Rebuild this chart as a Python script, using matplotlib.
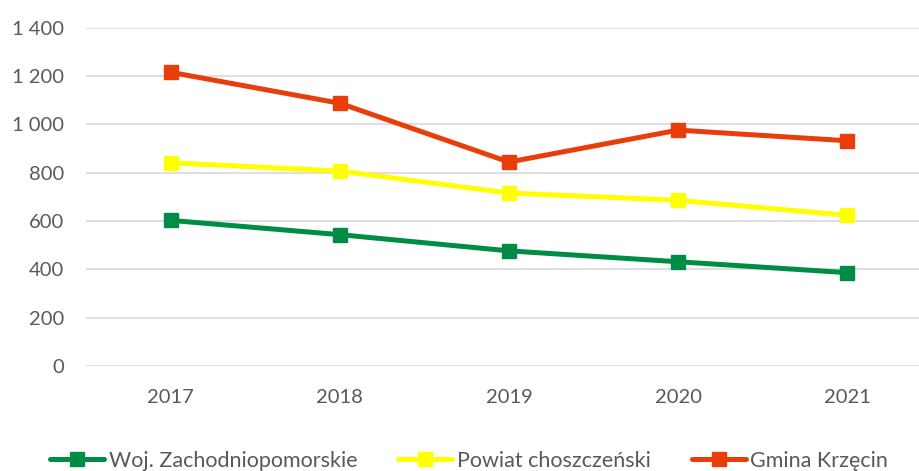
import matplotlib.pyplot as plt
from matplotlib.ticker import FuncFormatter

years = ['2017', '2018', '2019', '2020', '2021']
woj = [603, 544, 477, 432, 387]
powiat = [841, 807, 716, 686, 624]
gmina = [1215, 1087, 844, 976, 932]

labels = ['Woj. Zachodniopomorskie', 'Powiat choszczeński', 'Gmina Krzęcin']
colors = ['#008C45', '#FFFF00', '#E93E0B']

plt.rcParams['font.family'] = ['Lato', 'DejaVu Sans']

fig = plt.figure(figsize=(9.2, 4.71), dpi=100)
ax = fig.add_axes([0.0935, 0.2223, 1 - 0.0935, 0.7193])

x = range(len(years))
for series, lab, col in zip([woj, powiat, gmina], labels, colors):
    ax.plot(x, series, color=col, linewidth=3.6, marker='s', markersize=10.5,
            label=lab, solid_capstyle='round', zorder=3)

ax.set_ylim(0, 1400)
ax.set_yticks(range(0, 1401, 200))
ax.yaxis.set_major_formatter(FuncFormatter(lambda v, p: f'{int(v):,}'.replace(',', ' ')))
ax.set_xlim(-0.5, 4.43)
ax.set_xticks(list(x))
ax.set_xticklabels(years)

ax.grid(axis='y', color='#d9d9d9', linewidth=1.2)
ax.set_axisbelow(True)
for s in ax.spines.values():
    s.set_visible(False)
ax.tick_params(axis='both', length=0, labelsize=14.5, colors='#595959')
ax.tick_params(axis='y', pad=16)
ax.tick_params(axis='x', pad=16)

handles, labs = ax.get_legend_handles_labels()
leg = fig.legend(handles, labs, loc='center', bbox_to_anchor=(0.51, 10 / 471), ncol=3,
                 frameon=False, fontsize=15.5, handlelength=2.5, handletextpad=0.22,
                 columnspacing=1.9, borderpad=0, borderaxespad=0)
for t in leg.get_texts():
    t.set_color('#595959')

fig.savefig('out.png', dpi=100)
